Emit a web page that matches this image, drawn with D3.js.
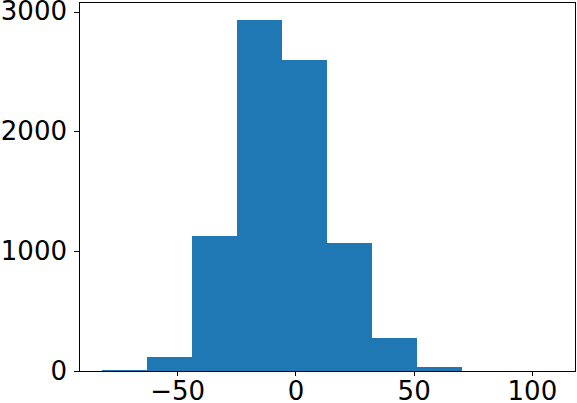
<!DOCTYPE html>
<html>
<head>
<meta charset="utf-8">
<script src="https://cdn.jsdelivr.net/npm/d3@7"></script>
<style>
  body { margin: 0; background: #fff; }
  svg { display: block; }
  .tick text { font-family: "DejaVu Sans", sans-serif; font-size: 26px; fill: #000; }
  .tick line { shape-rendering: crispEdges; }
</style>
</head>
<body>
<div id="hist"></div>
<script>
// Histogram bins (edges) and counts
const binEdges = [-82.0, -62.9, -43.9, -24.8, -5.7, 13.4, 32.4, 51.5, 70.6, 89.6, 108.7];
const counts = [10, 119, 1125, 2933, 2592, 1069, 277, 33, 2, 1];
const xTicks = [-50, 0, 50, 100];
const yTicks = [0, 1000, 2000, 3000];

const bins = counts.map((c, i) => ({x0: binEdges[i], x1: binEdges[i + 1], count: c}));

// Dimensions
const margin = {top: 2, right: 2, bottom: 32, left: 79},
    width = 577 - margin.left - margin.right,
    height = 403 - margin.top - margin.bottom;

const svg = d3.select("#hist")
    .append("svg")
    .attr("width", width + margin.left + margin.right)
    .attr("height", height + margin.top + margin.bottom)
    .append("g")
    .attr("transform", "translate(" + margin.left + "," + margin.top + ")");

// matplotlib-style 5% padding on x, 5% on top of y
const xMin = binEdges[0], xMax = binEdges[binEdges.length - 1];
const pad = (xMax - xMin) * 0.05;
const xScale = d3.scaleLinear()
    .domain([xMin - pad, xMax + pad])
    .range([0, width]);

const yScale = d3.scaleLinear()
    .domain([0, d3.max(counts) * 1.05])
    .range([height, 0]);

// Bars
svg.selectAll("rect.bar")
    .data(bins)
    .enter().append("rect")
    .attr("class", "bar")
    .attr("x", d => xScale(d.x0))
    .attr("y", d => yScale(d.count))
    .attr("width", d => xScale(d.x1) - xScale(d.x0))
    .attr("height", d => yScale(0) - yScale(d.count))
    .attr("fill", "#1f77b4")
    .attr("shape-rendering", "crispEdges");

// Frame
svg.append("rect")
    .attr("x", 0)
    .attr("y", 0)
    .attr("width", width)
    .attr("height", height)
    .attr("fill", "none")
    .attr("stroke", "#000")
    .attr("stroke-width", 1)
    .attr("shape-rendering", "crispEdges");

// Axes
const xAxis = svg.append("g")
    .attr("transform", "translate(0," + height + ")")
    .call(d3.axisBottom(xScale).tickValues(xTicks).tickSize(5).tickPadding(6).tickFormat(d3.format("d")));

const yAxis = svg.append("g")
    .call(d3.axisLeft(yScale).tickValues(yTicks).tickSize(5).tickPadding(7).tickFormat(d3.format("d")));

[xAxis, yAxis].forEach(a => {
    a.select(".domain").remove();
    a.selectAll(".tick line").attr("stroke", "#000");
});
</script>
</body>
</html>
